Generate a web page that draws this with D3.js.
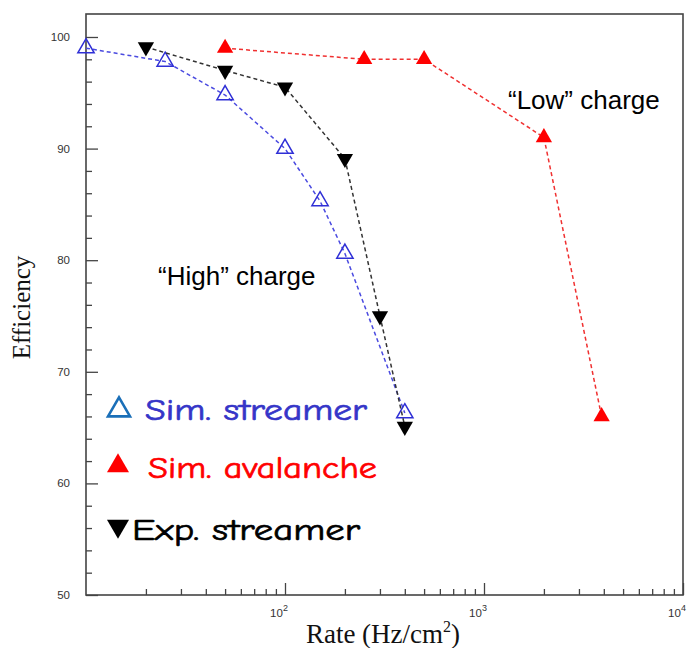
<!DOCTYPE html>
<html>
<head>
<meta charset="utf-8">
<script src="https://cdn.jsdelivr.net/npm/d3@7"></script>
<style>
  body { margin: 0; background: #fff; }
  svg { display: block; }
</style>
</head>
<body>
<div id="chart"></div>
<script>
// data
var streamerRate = [10, 25, 50, 100, 150, 200, 400];
var streamerEff  = [99.0, 97.8, 94.8, 90.0, 85.3, 80.6, 66.3];

var avalancheRate = [50, 250, 500, 2000, 3900];
var avalancheEff  = [99.0, 98.0, 98.0, 91.0, 66.0];

var expRate = [20, 50, 100, 200, 300, 400];
var expEff  = [99.1, 97.0, 95.5, 89.1, 75.0, 65.1];

var xMajor = [100, 1000, 10000];
var xMajorLabels = ["2", "3", "4"];
var yMajor = [50, 60, 70, 80, 90, 100];

(function() {
  var margin = { top: 14, left: 86, right: 9, bottom: 53 },
      width = 692 - margin.left - margin.right,
      height = 648 - margin.top - margin.bottom;

  var svg = d3.select("#chart")
    .append("svg")
    .attr("width", 692)
    .attr("height", 648)
    .append("g")
    .attr("transform", "translate(" + margin.left + "," + margin.top + ")");

  var x = d3.scaleLog().domain([10, 10000]).range([0, width]);
  var y = d3.scaleLinear().domain([50, 102.06]).range([height, 0]);

  // minor ticks
  var xMinor = [];
  [10, 100, 1000].forEach(function(b) {
    for (var k = 2; k <= 9; k++) xMinor.push(b * k);
  });
  var yMinor = d3.range(52, 102, 2).filter(function(v) { return v % 10 !== 0; });

  var axisColor = "#444";

  svg.append("g")
    .attr("transform", "translate(0," + height + ")")
    .call(d3.axisBottom(x).tickValues(xMinor).tickSize(-6).tickFormat(""))
    .call(function(g) { g.select(".domain").remove(); })
    .selectAll("line").attr("stroke", axisColor).attr("stroke-width", 1.3);

  svg.append("g")
    .attr("transform", "translate(0," + height + ")")
    .call(d3.axisBottom(x).tickValues(xMajor).tickSize(-12).tickFormat(""))
    .call(function(g) { g.select(".domain").remove(); })
    .selectAll("line").attr("stroke", axisColor).attr("stroke-width", 1.3);

  svg.append("g")
    .call(d3.axisLeft(y).tickValues(yMinor).tickSize(-6).tickFormat(""))
    .call(function(g) { g.select(".domain").remove(); })
    .selectAll("line").attr("stroke", axisColor).attr("stroke-width", 1.3);

  svg.append("g")
    .call(d3.axisLeft(y).tickValues(yMajor).tickSize(-12).tickFormat(""))
    .call(function(g) { g.select(".domain").remove(); })
    .selectAll("line").attr("stroke", axisColor).attr("stroke-width", 1.3);

  // frame
  svg.append("rect")
    .attr("x", 0).attr("y", 0)
    .attr("width", width).attr("height", height)
    .attr("fill", "none")
    .attr("stroke", axisColor)
    .attr("stroke-width", 1.6);

  // y tick labels
  svg.selectAll(".ylab")
    .data(yMajor)
    .enter().append("text")
    .attr("class", "ylab")
    .attr("x", -16)
    .attr("y", function(d) { return y(d) + 4; })
    .attr("text-anchor", "end")
    .attr("font-family", "Liberation Sans, Arial, sans-serif")
    .attr("font-size", "11.5px")
    .attr("fill", "#333")
    .text(function(d) { return d; });

  // x tick labels 10^n
  var xl = svg.selectAll(".xlab")
    .data(xMajor)
    .enter().append("text")
    .attr("class", "xlab")
    .attr("x", function(d) { return x(d) - 6; })
    .attr("y", height + 22)
    .attr("text-anchor", "middle")
    .attr("font-family", "Liberation Sans, Arial, sans-serif")
    .attr("font-size", "11.5px")
    .attr("fill", "#333");
  xl.append("tspan").text("10");
  xl.append("tspan")
    .attr("dy", -6)
    .attr("font-size", "9px")
    .text(function(d, i) { return xMajorLabels[i]; });

  // axis titles
  svg.append("text")
    .attr("x", 297)
    .attr("y", height + 48)
    .attr("text-anchor", "middle")
    .attr("font-family", "Liberation Serif, Times New Roman, serif")
    .attr("font-size", "27px")
    .attr("fill", "#111")
    .html("Rate (Hz/cm<tspan dy='-11' font-size='16px'>2</tspan><tspan dy='11'>)</tspan>");

  svg.append("text")
    .attr("transform", "translate(" + (-56) + "," + (height / 2 + 3) + ") rotate(-90)")
    .attr("text-anchor", "middle")
    .attr("font-family", "Liberation Serif, Times New Roman, serif")
    .attr("font-size", "25px")
    .attr("fill", "#111")
    .text("Efficiency");

  var line = d3.line()
    .x(function(d) { return x(d[0]); })
    .y(function(d) { return y(d[1]); });

  var tri = d3.symbol().type(d3.symbolTriangle).size(115);

  function drawSeries(rates, effs, color, markerColor, filled, down) {
    var pts = d3.zip(rates, effs);
    svg.append("path")
      .datum(pts)
      .attr("d", line)
      .attr("fill", "none")
      .attr("stroke", color)
      .attr("stroke-width", 1.5)
      .attr("stroke-dasharray", "4,3");
    svg.selectAll(null)
      .data(pts)
      .enter().append("path")
      .attr("d", tri)
      .attr("transform", function(d) {
        return "translate(" + x(d[0]) + "," + y(d[1]) + ")" + (down ? " rotate(180)" : "");
      })
      .attr("fill", filled ? markerColor : "none")
      .attr("stroke", markerColor)
      .attr("stroke-width", filled ? 0 : 1.5);
  }

  drawSeries(streamerRate, streamerEff, "#4a4ae0", "#2f2fd6", false, false);
  drawSeries(avalancheRate, avalancheEff, "#f03030", "#ff0000", true, false);
  drawSeries(expRate, expEff, "#333", "#000", true, true);

  // annotations
  svg.append("text")
    .attr("x", 422)
    .attr("y", 95)
    .attr("font-family", "Liberation Sans, Arial, sans-serif")
    .attr("font-size", "26px")
    .attr("fill", "#000")
    .text("\u201CLow\u201D charge");

  svg.append("text")
    .attr("x", 72)
    .attr("y", 271)
    .attr("font-family", "Liberation Sans, Arial, sans-serif")
    .attr("font-size", "26px")
    .attr("fill", "#000")
    .text("\u201CHigh\u201D charge");

  // legend
  var legendFont = "Comic Sans MS, Comic Neue, DejaVu Sans, sans-serif";
  var bigTri = d3.symbol().type(d3.symbolTriangle).size(210);

  svg.append("path")
    .attr("d", bigTri)
    .attr("transform", "translate(33,396)")
    .attr("fill", "none")
    .attr("stroke", "#1a6fb8")
    .attr("stroke-width", 2.6);
  svg.append("text")
    .attr("x", 59).attr("y", 406)
    .attr("font-family", legendFont)
    .attr("font-size", "31px")
    .attr("textLength", 222)
    .attr("lengthAdjust", "spacingAndGlyphs")
    .attr("fill", "#3535c8")
    .attr("stroke", "#3535c8")
    .attr("stroke-width", 0.7)
    .text("Sim. streamer");

  svg.append("path")
    .attr("d", bigTri)
    .attr("transform", "translate(32,452)")
    .attr("fill", "#ff0000");
  svg.append("text")
    .attr("x", 62).attr("y", 464)
    .attr("font-family", legendFont)
    .attr("font-size", "31px")
    .attr("textLength", 229)
    .attr("lengthAdjust", "spacingAndGlyphs")
    .attr("fill", "#ff0000")
    .attr("stroke", "#ff0000")
    .attr("stroke-width", 0.7)
    .text("Sim. avalanche");

  svg.append("path")
    .attr("d", bigTri)
    .attr("transform", "translate(32,512) rotate(180)")
    .attr("fill", "#000");
  svg.append("text")
    .attr("x", 46).attr("y", 526)
    .attr("font-family", legendFont)
    .attr("font-size", "31px")
    .attr("textLength", 228)
    .attr("lengthAdjust", "spacingAndGlyphs")
    .attr("fill", "#000")
    .attr("stroke", "#000")
    .attr("stroke-width", 0.7)
    .text("Exp. streamer");
})();
</script>
</body>
</html>
